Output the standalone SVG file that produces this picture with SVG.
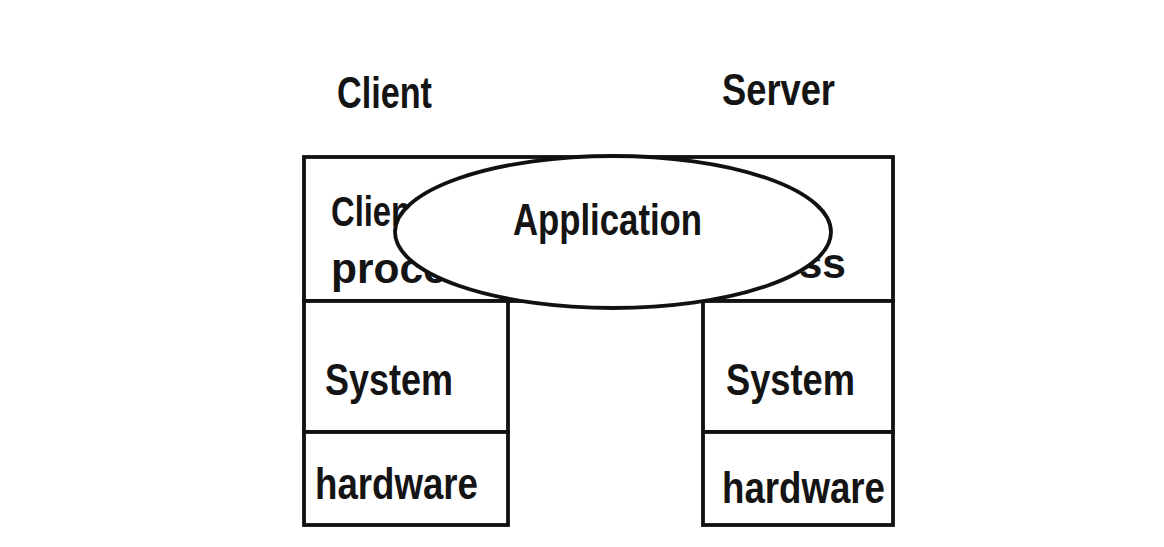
<svg xmlns="http://www.w3.org/2000/svg" width="1164" height="547" viewBox="0 0 1164 547">
  <style>
    .box { fill: #ffffff; stroke: #111111; stroke-width: 3.8; }
    .ell { fill: #ffffff; stroke: #111111; stroke-width: 3.8; }
    .t { font-family: "Liberation Sans", Arial, sans-serif; font-size: 44px; font-weight: bold; fill: #141414; }
    .ts { font-family: "Liberation Sans", Arial, sans-serif; font-size: 43px; font-weight: bold; fill: #141414; }
  </style>
  <rect width="1164" height="547" fill="#ffffff"/>
  <g id="title-client">
    <text class="t" x="337" y="108" textLength="95" lengthAdjust="spacingAndGlyphs">Client</text>
  </g>
  <g id="title-server">
    <text class="t" x="722" y="105" textLength="113" lengthAdjust="spacingAndGlyphs">Server</text>
  </g>
  <g id="process-layer">
    <rect class="box" x="304" y="157" width="589" height="144"/>
    <text class="ts" x="331" y="226" textLength="91" lengthAdjust="spacingAndGlyphs">Client</text>
    <text class="ts" x="331" y="283" textLength="163" lengthAdjust="spacingAndGlyphs">process</text>
    <text class="ts" x="683" y="278" textLength="163" lengthAdjust="spacingAndGlyphs">process</text>
  </g>
  <g id="client-system">
    <rect class="box" x="304" y="301" width="204" height="131"/>
    <text class="t" x="325" y="395" textLength="128" lengthAdjust="spacingAndGlyphs">System</text>
  </g>
  <g id="client-hardware">
    <rect class="box" x="304" y="432" width="204" height="93"/>
    <text class="t" x="315" y="499" textLength="163" lengthAdjust="spacingAndGlyphs">hardware</text>
  </g>
  <g id="server-system">
    <rect class="box" x="703" y="301" width="190" height="131"/>
    <text class="t" x="726" y="395" textLength="129" lengthAdjust="spacingAndGlyphs">System</text>
  </g>
  <g id="server-hardware">
    <rect class="box" x="703" y="432" width="190" height="93"/>
    <text class="t" x="722" y="503" textLength="163" lengthAdjust="spacingAndGlyphs">hardware</text>
  </g>
  <g id="application">
    <ellipse class="ell" cx="613" cy="232" rx="218" ry="76"/>
    <text class="t" x="513" y="235" textLength="189" lengthAdjust="spacingAndGlyphs">Application</text>
  </g>
  <g id="connectors"></g>
</svg>
